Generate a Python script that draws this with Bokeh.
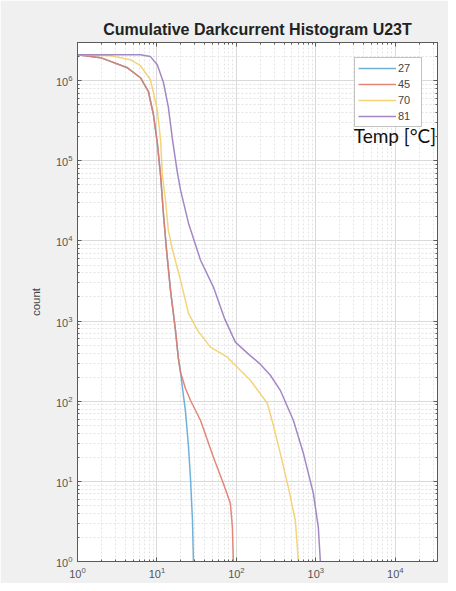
from bokeh.plotting import figure
from bokeh.models import LogAxis, FixedTicker, Legend, LegendItem, Label, Range1d
from bokeh.embed import file_html
from bokeh.resources import INLINE

title = "Cumulative Darkcurrent Histogram U23T"
temps = ["27", "45", "70", "81"]
colors = ["#5fa8d3", "#e07b6a", "#f2cf6a", "#9a7bbf"]

x27 = [1, 1.95, 4.26, 6.2, 7.82, 9.04, 10.1, 11.1, 12.1, 13.2, 14.8, 17.1, 18.6, 19.8, 21.5, 22.8, 24.9, 26.4, 28.0, 28.8]
y27 = [2.11e6, 1.94e6, 1.45e6, 1.09e6, 7.29e5, 3.76e5, 1.68e5, 6.68e4, 2.11e4, 7.72e3, 2.44e3, 772, 345, 230, 119, 77, 28, 11.2, 3.3, 1]

x45 = [1, 1.95, 4.26, 6.2, 7.82, 9.04, 10.1, 11.1, 12.1, 13.2, 14.8, 17.1, 18.6, 19.8, 22.8, 26.4, 35.3, 51.4, 68.6, 84.1, 89.1, 91.6]
y45 = [2.11e6, 1.94e6, 1.45e6, 1.09e6, 7.29e5, 3.76e5, 1.68e5, 6.68e4, 2.11e4, 7.72e3, 2.44e3, 772, 345, 230, 145, 103, 57.9, 20, 9.4, 5.3, 2.66, 1]

x70 = [1, 2.6, 4.64, 6.2, 8.28, 10.1, 11.1, 11.7, 12.8, 13.9, 15.7, 19.8, 24.9, 32.3, 47.1, 77.1, 112, 150, 245, 292, 357, 451, 552, 603]
y70 = [2.11e6, 2.05e6, 1.83e6, 1.54e6, 1.03e6, 4.34e5, 1.83e5, 6.68e4, 3.25e4, 1.37e4, 7.72e3, 3.25e3, 1.26e3, 772, 473, 355, 244, 183, 94.4, 50.1, 22.4, 8.4, 3.25, 1]

x81 = [1, 6.2, 8.28, 10.1, 12.1, 13.9, 15.7, 18.1, 19.8, 24.9, 35.3, 51.4, 70.6, 97.1, 142, 200, 268, 357, 521, 697, 931, 1075, 1140]
y81 = [2.11e6, 2.11e6, 2.0e6, 1.58e6, 9.44e5, 4.73e5, 1.83e5, 7.08e4, 4.34e4, 1.68e4, 5.79e3, 2.66e3, 1.09e3, 546, 387, 290, 211, 137, 57.9, 22.4, 7.08, 2.66, 1]

xs = [x27, x45, x70, x81]
ys = [y27, y45, y70, y81]

x_ticks = [1, 10, 100, 1000, 10000]
y_ticks = [1, 10, 100, 1000, 10000, 100000, 1000000]
sup = "⁰¹²³⁴⁵⁶"
x_labels = {str(v): "10" + sup[i] for i, v in enumerate(x_ticks)}
y_labels = {str(v): "10" + sup[i] for i, v in enumerate(y_ticks)}

FONT = "Liberation Sans"
W, H = 448, 583

p = figure(width=W, height=H, x_axis_type="log", y_axis_type="log",
           x_range=Range1d(1, 3.4e4), y_range=Range1d(1, 3e6),
           output_backend="svg", toolbar_location=None, title=title,
           min_border_left=77, min_border_right=W - 437, min_border_top=42,
           min_border_bottom=H - 561)

p.background_fill_color = "white"
p.border_fill_color = "#f0f0f0"
p.outline_line_color = "#5a5a5a"

p.title.text_font = FONT
p.title.text_font_style = "bold"
p.title.text_font_size = "16px"
p.title.text_color = "#222222"
p.title.align = "center"
p.title.offset = 0

xminor = [m * 10 ** k for k in range(0, 5) for m in range(2, 10)]
yminor = [m * 10 ** k for k in range(0, 7) for m in range(2, 10)]
xt = FixedTicker(ticks=x_ticks, minor_ticks=xminor)
yt = FixedTicker(ticks=y_ticks, minor_ticks=yminor)

top_ax = LogAxis(ticker=xt, major_label_text_font_size="1px", major_label_text_color=None,
                 major_label_standoff=4)
right_ax = LogAxis(ticker=yt, major_label_text_font_size="1px", major_label_text_color=None,
                   major_label_standoff=0)
p.add_layout(top_ax, "above")
p.add_layout(right_ax, "right")

p.below[0].ticker = xt
p.left[0].ticker = yt
p.xgrid.ticker = xt
p.ygrid.ticker = yt

for ax in [p.below[0], p.left[0], top_ax, right_ax]:
    ax.axis_line_color = "#5a5a5a"
    ax.major_tick_line_color = "#5a5a5a"
    ax.minor_tick_line_color = "#5a5a5a"
    ax.major_tick_in = 4
    ax.major_tick_out = 0
    ax.minor_tick_in = 2
    ax.minor_tick_out = 0

for ax in [p.below[0], p.left[0]]:
    ax.major_label_text_font = FONT
    ax.major_label_text_font_size = "11px"
    ax.major_label_text_color = "#555555"
    ax.major_label_standoff = 5

p.below[0].major_label_overrides = x_labels
p.left[0].major_label_overrides = y_labels

p.left[0].axis_label = "count"
p.left[0].axis_label_text_font = FONT
p.left[0].axis_label_text_font_style = "normal"
p.left[0].axis_label_text_font_size = "11.5px"
p.left[0].axis_label_text_color = "#444444"
p.left[0].axis_label_standoff = 11

p.xgrid.grid_line_color = "#dadada"
p.ygrid.grid_line_color = "#dadada"
p.xgrid.minor_grid_line_color = "#e4e4e4"
p.ygrid.minor_grid_line_color = "#e4e4e4"
p.xgrid.minor_grid_line_dash = "2 2"
p.ygrid.minor_grid_line_dash = "2 2"

items = []
for name, c, x, y in zip(temps, colors, xs, ys):
    r = p.line(x, y, line_color=c, line_width=1.5, line_alpha=0.9)
    items.append(LegendItem(label=name, renderers=[r]))

legend = Legend(items=items, location="top_right", margin=15,
                glyph_width=38, glyph_height=14, label_height=14, spacing=2,
                padding=3, label_standoff=2,
                label_text_font=FONT, label_text_font_size="11px",
                label_text_color="#444444",
                border_line_color="#888888", background_fill_color="white")
p.add_layout(legend)

p.add_layout(Label(x=3000, y=2.1e5, text="Temp [°C]", text_font="Lato",
                   text_font_size="19px", text_color="#111111",
                   text_baseline="middle"))

open("out.html", "w").write(file_html(p, INLINE))
